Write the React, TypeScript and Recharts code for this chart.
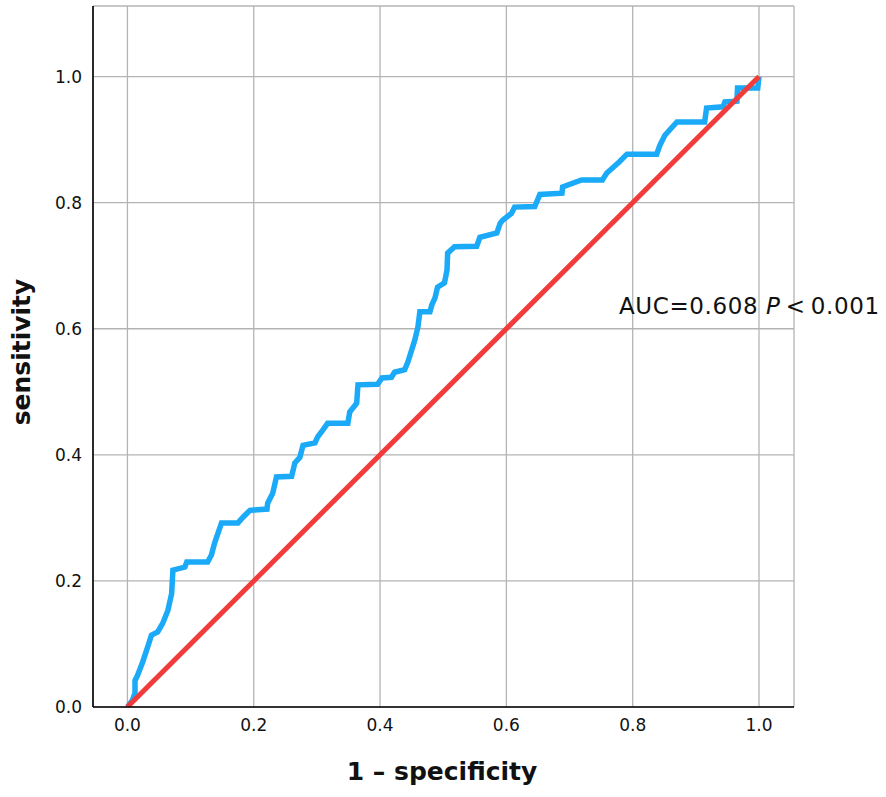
import React from 'react'
import { LineChart, Line, XAxis, YAxis, CartesianGrid } from 'recharts'

// ROC curve vertices (1 - specificity, sensitivity)
const fpr = [
  0, 0.008, 0.012, 0.012, 0.016, 0.024, 0.032, 0.038, 0.048, 0.056,
  0.064, 0.070, 0.072, 0.091, 0.094, 0.127, 0.133, 0.138, 0.149, 0.175,
  0.183, 0.194, 0.221, 0.222, 0.230, 0.236, 0.260, 0.265, 0.273, 0.278,
  0.297, 0.301, 0.309, 0.317, 0.349, 0.352, 0.363, 0.365, 0.396, 0.403,
  0.418, 0.423, 0.439, 0.444, 0.450, 0.455, 0.460, 0.463, 0.479, 0.482,
  0.487, 0.491, 0.502, 0.506, 0.507, 0.518, 0.553, 0.558, 0.585, 0.590,
  0.594, 0.608, 0.613, 0.645, 0.653, 0.688, 0.689, 0.719, 0.752, 0.759,
  0.768, 0.779, 0.791, 0.838, 0.843, 0.851, 0.870, 0.914, 0.917, 0.943,
  0.946, 0.965, 0.966, 0.998, 1.0,
]
const tpr = [
  0, 0.011, 0.022, 0.042, 0.050, 0.071, 0.095, 0.114, 0.119, 0.133,
  0.153, 0.180, 0.217, 0.222, 0.230, 0.230, 0.241, 0.260, 0.292, 0.292,
  0.301, 0.312, 0.314, 0.323, 0.339, 0.365, 0.366, 0.387, 0.396, 0.415,
  0.419, 0.428, 0.439, 0.450, 0.450, 0.468, 0.482, 0.511, 0.512, 0.522,
  0.523, 0.531, 0.535, 0.547, 0.566, 0.582, 0.603, 0.627, 0.627, 0.638,
  0.649, 0.666, 0.673, 0.693, 0.720, 0.730, 0.731, 0.745, 0.752, 0.767,
  0.772, 0.783, 0.793, 0.794, 0.813, 0.815, 0.825, 0.836, 0.836, 0.847,
  0.855, 0.865, 0.877, 0.877, 0.891, 0.907, 0.928, 0.928, 0.950, 0.952,
  0.960, 0.961, 0.982, 0.982, 1.0,
]
const diagX = [0, 1]
const diagY = [0, 1]
const ticks = [0, 0.2, 0.4, 0.6, 0.8, 1.0]

const rocData = fpr.map((x, i) => ({ x, y: tpr[i] }))
const refData = diagX.map((x, i) => ({ x, y: diagY[i] }))

const C = { blue: '#1aaaf7', red: '#f23c3c', grid: '#b4b4b4', axis: '#000', text: '#111' }
const FONT = '"DejaVu Sans", Verdana, sans-serif'

export default function App() {
  return (
    <div style={{ position: 'absolute', left: 0, top: 0, width: 886, height: 797, background: '#fff', fontFamily: FONT }}>
      <LineChart width={886} height={797} margin={{ top: 6, right: 92, bottom: 60, left: 33 }}>
        <CartesianGrid stroke={C.grid} strokeWidth={1.3} />
        <XAxis
          dataKey="x" type="number" domain={[-0.0545, 1.0554]} ticks={ticks} allowDataOverflow
          tickFormatter={(v: number) => v.toFixed(1)} height={30}
          tick={{ fontSize: 17, fill: C.text, fontFamily: FONT }} tickLine={false} tickSize={6} tickMargin={6}
          axisLine={{ stroke: C.axis, strokeWidth: 1.6 }}
        />
        <YAxis
          dataKey="y" type="number" domain={[0, 1.112]} ticks={ticks} allowDataOverflow
          tickFormatter={(v: number) => v.toFixed(1)} width={60}
          tick={{ fontSize: 17, fill: C.text, fontFamily: FONT }} tickLine={false} tickSize={6} tickMargin={5}
          axisLine={{ stroke: C.axis, strokeWidth: 1.6 }}
        />
        <Line data={rocData} dataKey="y" type="linear" stroke={C.blue} strokeWidth={5.5} dot={false} isAnimationActive={false} strokeLinejoin="miter" />
        <Line data={refData} dataKey="y" type="linear" stroke={C.red} strokeWidth={5} dot={false} isAnimationActive={false} />
      </LineChart>

      {/* axis titles */}
      <div style={{ position: 'absolute', left: 442, top: 757, transform: 'translateX(-50%)', fontSize: 25, fontWeight: 700, color: C.text, whiteSpace: 'nowrap' }}>
        1 – specificity
      </div>
      <div style={{ position: 'absolute', left: 21, top: 352, transform: 'translate(-50%, -50%) rotate(-90deg)', fontSize: 25, fontWeight: 700, color: C.text, whiteSpace: 'nowrap' }}>
        sensitivity
      </div>

      {/* annotation */}
      <div style={{ position: 'absolute', left: 619, top: 293, fontSize: 23, color: C.text, whiteSpace: 'nowrap', letterSpacing: 0.6 }}>
        AUC=0.608 <span style={{ fontStyle: 'italic' }}>P</span>{'\u2009'}&lt;{'\u2009'}0.001
      </div>
    </div>
  )
}
